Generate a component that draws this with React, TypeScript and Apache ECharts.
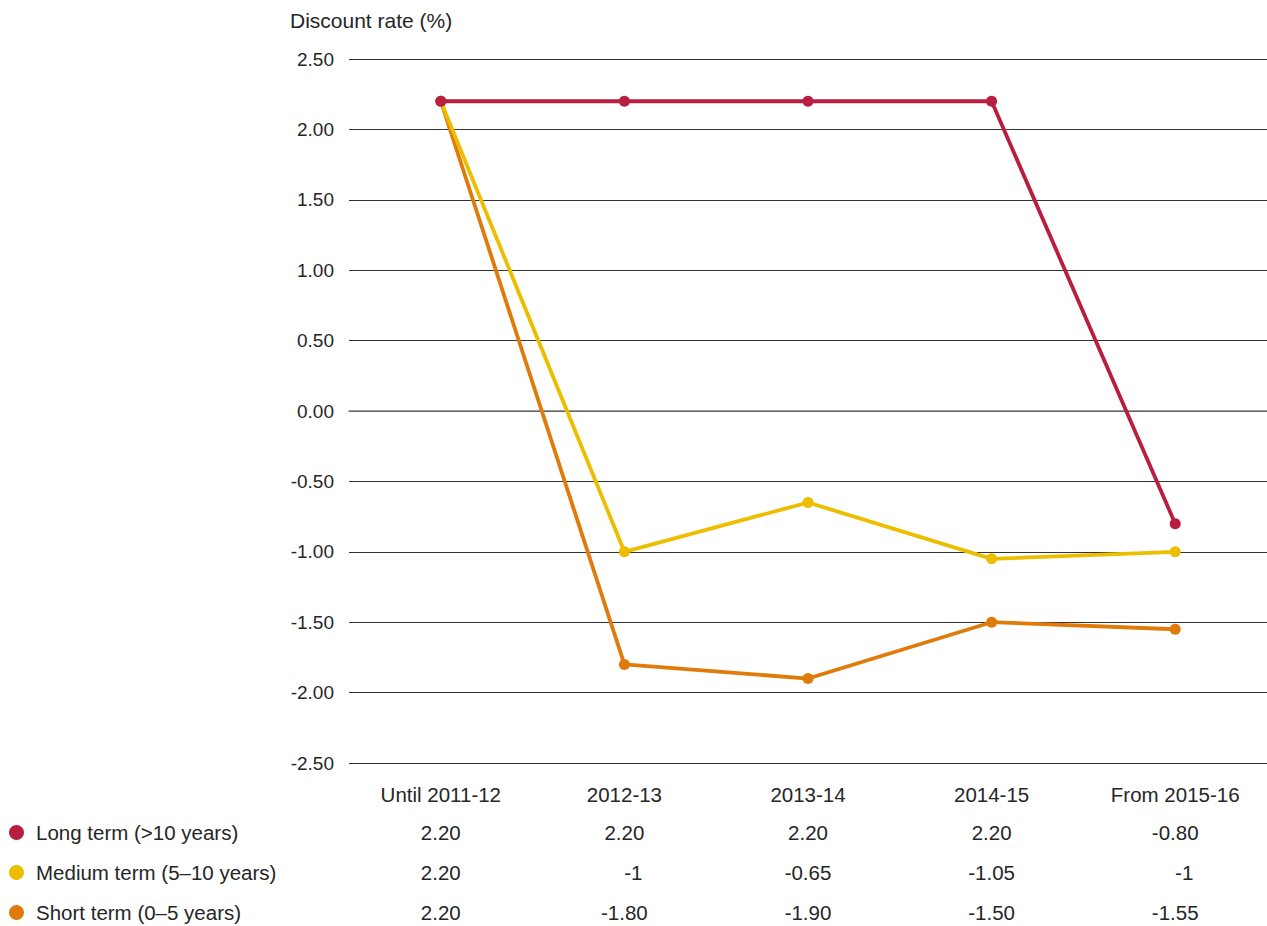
import React, { useEffect, useRef } from "react";
import * as echarts from "echarts";

// Discount rate periods and values per term
const periods = ["Until 2011-12", "2012-13", "2013-14", "2014-15", "From 2015-16"];
const longTerm = [2.2, 2.2, 2.2, 2.2, -0.8];
const mediumTerm = [2.2, -1, -0.65, -1.05, -1];
const shortTerm = [2.2, -1.8, -1.9, -1.5, -1.55];

const seriesNames = ["Long term (>10 years)", "Medium term (5–10 years)", "Short term (0–5 years)"];
const seriesColors = ["#B91E41", "#EDBE00", "#E07A0A"];

const yMin = -2.5;
const yMax = 2.5;
const yStep = 0.5;

const FONT = "Liberation Sans";
const TEXT = "#262626";
const SIZE = 20.5;

// Whole numbers are printed without decimals, the rest with two
const fmt = (v: number) => (Number.isInteger(v) ? `{int|${v}}` : v.toFixed(2));

export default function App() {
  const ref = useRef<HTMLDivElement>(null);

  useEffect(() => {
    document.body.style.margin = "0";
    if (!ref.current) return;
    const chart = echarts.init(ref.current, undefined, { renderer: "svg" });

    const valueRows = [longTerm, mediumTerm, shortTerm];
    const rowOffsets = [59, 99, 139];
    const rowTops = [817, 857, 897];

    // One extra category axis per series, printing its values under each period
    const tableAxes = valueRows.map((row, i) => ({
      type: "category" as const,
      gridIndex: 0,
      position: "bottom" as const,
      offset: rowOffsets[i],
      data: row.map(fmt),
      axisLine: { show: false },
      axisTick: { show: false },
      splitLine: { show: false },
      axisLabel: {
        margin: 0,
        color: TEXT,
        fontFamily: FONT,
        fontSize: SIZE,
        verticalAlign: "top" as const,
        rich: {
          int: { fontFamily: FONT, fontSize: SIZE, color: TEXT, padding: [0, 0, 0, 18] },
        },
      },
    }));

    // One legend per row so each sits level with its values
    const legends = seriesNames.map((name, i) => ({
      orient: "horizontal" as const,
      left: 4,
      top: rowTops[i],
      itemWidth: 15,
      itemHeight: 15,
      icon: "circle",
      selectedMode: false,
      data: [name],
      textStyle: {
        fontFamily: FONT,
        fontSize: SIZE,
        color: TEXT,
        padding: [0, 0, 0, 7],
      },
    }));

    chart.setOption({
      animation: false,
      backgroundColor: "#fff",
      textStyle: { fontFamily: FONT },
      title: {
        text: "Discount rate (%)",
        left: 285,
        top: 5,
        textStyle: { fontFamily: FONT, fontWeight: "normal", fontSize: 21, color: TEXT },
      },
      grid: { left: 349, right: -2, top: 59, bottom: 163, containLabel: false },
      legend: legends,
      xAxis: [
        {
          type: "category",
          data: periods,
          boundaryGap: true,
          axisLine: { lineStyle: { color: "#777", width: 1.5 } },
          axisTick: { alignWithLabel: true, length: 8, lineStyle: { color: "#555" } },
          axisLabel: {
            margin: 21,
            color: TEXT,
            fontFamily: FONT,
            fontSize: SIZE,
          },
        },
        ...tableAxes,
      ],
      yAxis: {
        type: "value",
        min: yMin,
        max: yMax,
        interval: yStep,
        axisLine: { show: false },
        axisTick: { show: false },
        axisLabel: {
          margin: 15,
          color: TEXT,
          fontFamily: FONT,
          fontSize: 19,
          formatter: (v: number) => v.toFixed(2),
        },
        splitLine: { lineStyle: { color: "#333", width: 1 } },
      },
      series: [longTerm, mediumTerm, shortTerm].map((data, i) => ({
        name: seriesNames[i],
        type: "line",
        data,
        z: 10 - i,
        symbol: "circle",
        symbolSize: 11,
        color: seriesColors[i],
        lineStyle: { width: 3.8, color: seriesColors[i] },
        itemStyle: { color: seriesColors[i] },
      })),
    });

    return () => chart.dispose();
  }, []);

  return <div ref={ref} style={{ width: 1267, height: 926 }} />;
}
